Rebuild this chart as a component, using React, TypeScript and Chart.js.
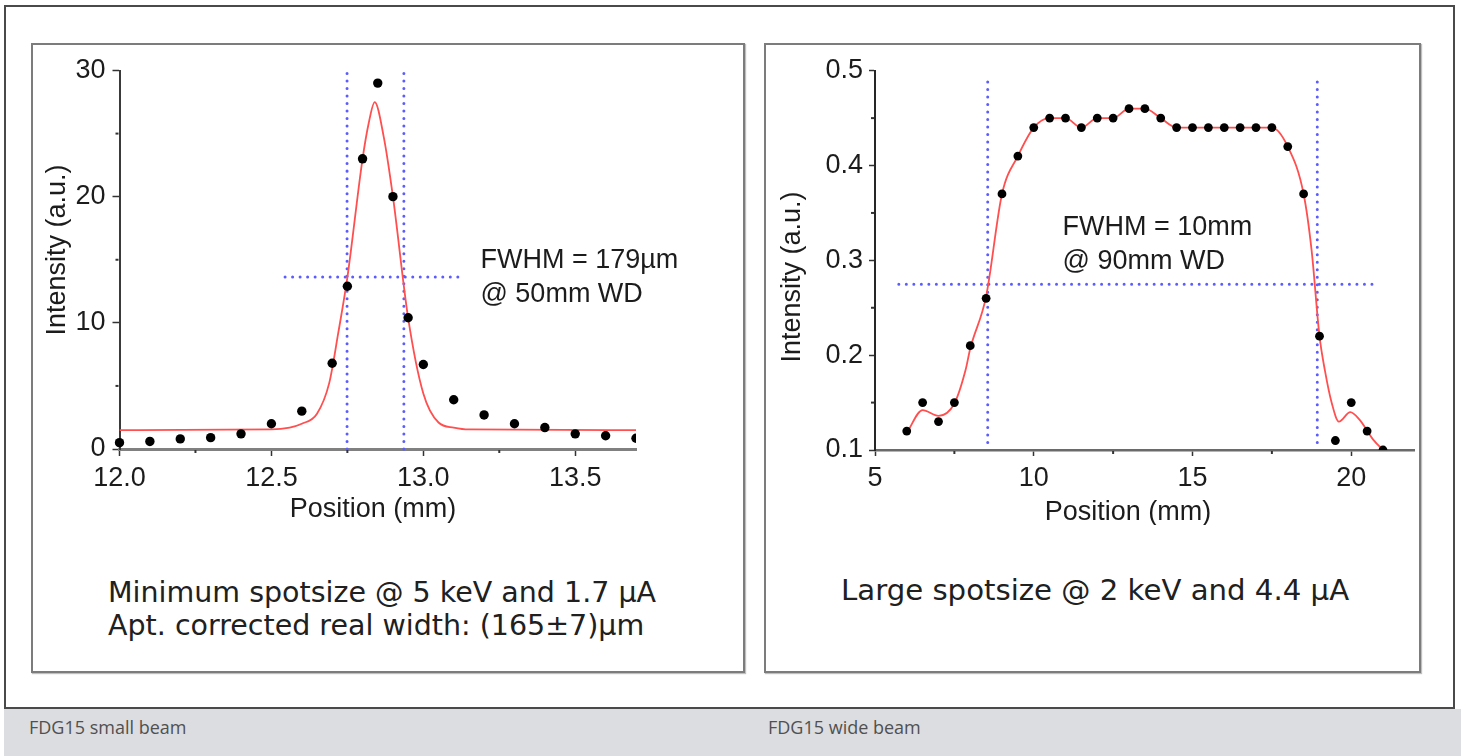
import React, { useEffect, useRef } from "react";
import { Chart, registerables } from "chart.js";

Chart.register(...registerables);

// ---------------- Left chart: FDG15 small beam ----------------
const smallPosition = [12.0, 12.1, 12.2, 12.3, 12.4, 12.5, 12.6, 12.7, 12.75, 12.8, 12.85, 12.9, 12.95, 13.0, 13.1, 13.2, 13.3, 13.4, 13.5, 13.6, 13.7];
const smallIntensity = [0.5, 0.6, 0.8, 0.9, 1.2, 2.0, 3.0, 6.8, 12.9, 23.0, 29.0, 20.0, 10.4, 6.7, 3.9, 2.7, 2.0, 1.7, 1.2, 1.05, 0.85];
const smallFitPosition = [12.0, 12.5, 12.56, 12.6, 12.65, 12.69, 12.72, 12.75, 12.8, 12.82, 12.84, 12.87, 12.9, 12.95, 13.0, 13.05, 13.1, 13.15, 13.7];
const smallFitIntensity = [1.5, 1.55, 1.7, 2.0, 2.8, 5.2, 9.2, 13.6, 23.0, 25.8, 27.5, 24.7, 20.0, 10.4, 4.4, 2.1, 1.7, 1.55, 1.5];
const smallEdges = [12.749, 12.936];
const smallEdgeSpan = [0, 30];
const smallHalfMaxSpan = [12.545, 13.128];
const smallHalfMax = 13.64;
const smallXTicks = [12.0, 12.5, 13.0, 13.5];
const smallXMinor = [12.25, 12.75, 13.25];
const smallYTicks = [0, 10, 20, 30];
const smallYMinor = [5, 15, 25];
const smallNote = ["FWHM = 179µm", "@ 50mm WD"];
const smallCaption = ["Minimum spotsize @ 5 keV and 1.7 µA", "Apt. corrected real width: (165±7)µm"];

// ---------------- Right chart: FDG15 wide beam ----------------
const widePosition = [6, 6.5, 7, 7.5, 8, 8.5, 9, 9.5, 10, 10.5, 11, 11.5, 12, 12.5, 13, 13.5, 14, 14.5, 15, 15.5, 16, 16.5, 17, 17.5, 18, 18.5, 19, 19.5, 20, 20.5, 21];
const wideIntensity = [0.12, 0.15, 0.13, 0.15, 0.21, 0.26, 0.37, 0.41, 0.44, 0.45, 0.45, 0.44, 0.45, 0.45, 0.46, 0.46, 0.45, 0.44, 0.44, 0.44, 0.44, 0.44, 0.44, 0.44, 0.42, 0.37, 0.22, 0.11, 0.15, 0.12, 0.10];
const wideFitPosition = [6.0, 6.5, 7.0, 7.5, 7.85, 8.0, 8.5, 9.0, 9.5, 10, 10.5, 11, 11.5, 12, 12.5, 13, 13.5, 14, 14.5, 15, 15.5, 16, 16.5, 17, 17.5, 18, 18.5, 18.75, 19.0, 19.17, 19.39, 19.61, 19.97, 20.26, 20.69, 21.06];
const wideFitIntensity = [0.118, 0.142, 0.136, 0.149, 0.184, 0.207, 0.262, 0.37, 0.41, 0.44, 0.45, 0.45, 0.44, 0.45, 0.45, 0.46, 0.46, 0.45, 0.44, 0.44, 0.44, 0.44, 0.44, 0.44, 0.44, 0.42, 0.37, 0.311, 0.22, 0.184, 0.149, 0.13, 0.14, 0.132, 0.111, 0.098];
const wideEdges = [8.55, 18.93];
const wideEdgeSpan = [0.108, 0.496];
const wideHalfMaxSpan = [5.75, 20.72];
const wideHalfMax = 0.2748;
const wideXTicks = [5, 10, 15, 20];
const wideXMinor = [7.5, 12.5, 17.5];
const wideYTicks = [0.1, 0.2, 0.3, 0.4, 0.5];
const wideYMinor = [0.15, 0.25, 0.35, 0.45];
const wideNote = ["FWHM = 10mm", "@ 90mm WD"];
const wideCaption = ["Large spotsize @ 2 keV and 4.4 µA"];

const figureLabels = ["FDG15 small beam", "FDG15 wide beam"];

// ---------------- styling ----------------
const AXIS_FONT = '"Liberation Sans", Arial, Helvetica, sans-serif';
const CAPTION_FONT = '"DejaVu Sans", Verdana, sans-serif';
const TEXT_COLOR = "#1c1c1c";
const FIT_COLOR = "#ff4f4f";
const GUIDE_COLOR = "#5c5cff";

const zip = (xs: number[], ys: number[]) => xs.map((x, i) => ({ x, y: ys[i] }));

type TextItem = {
  text: string;
  x: number;
  y: number;
  data?: boolean;
  rotate?: number;
  align?: CanvasTextAlign;
};

function makeTextPlugin(items: TextItem[]) {
  return {
    id: "panelText",
    afterDraw(chart: any) {
      const { ctx, scales } = chart;
      items.forEach((it) => {
        let x = it.x;
        let y = it.y;
        if (it.data) {
          x = scales.x.getPixelForValue(it.x);
          y = scales.y.getPixelForValue(it.y);
        }
        ctx.save();
        ctx.translate(x, y);
        if (it.rotate) ctx.rotate(it.rotate);
        ctx.font = `27px ${AXIS_FONT}`;
        ctx.fillStyle = TEXT_COLOR;
        ctx.textAlign = it.align || "left";
        ctx.textBaseline = "alphabetic";
        ctx.fillText(it.text, 0, 0);
        ctx.restore();
      });
    },
  };
}

function makeMinorPlugin(xMinor: number[], yMinor: number[]) {
  return {
    id: "minorTicks",
    afterDraw(chart: any) {
      const { ctx, scales } = chart;
      const xs = scales.x;
      const ys = scales.y;
      ctx.save();
      ctx.strokeStyle = "#333";
      ctx.lineWidth = 2;
      xMinor.forEach((v) => {
        const px = xs.getPixelForValue(v);
        ctx.beginPath();
        ctx.moveTo(px, ys.bottom + 1);
        ctx.lineTo(px, ys.bottom + 4);
        ctx.stroke();
      });
      yMinor.forEach((v) => {
        const py = ys.getPixelForValue(v);
        ctx.beginPath();
        ctx.moveTo(xs.left - 1, py);
        ctx.lineTo(xs.left - 4, py);
        ctx.stroke();
      });
      ctx.restore();
    },
  };
}

function guide(points: { x: number; y: number }[]) {
  return {
    data: points,
    borderColor: GUIDE_COLOR,
    borderWidth: 3,
    borderDash: [0.01, 7.5],
    borderCapStyle: "round",
    pointRadius: 0,
    tension: 0,
    clip: false,
    fill: false,
  };
}

function scale(opts: {
  min: number;
  max: number;
  ticks: number[];
  fmt: (v: number) => string;
  size: number;
  horizontal: boolean;
  borderColor: string;
  borderWidth: number;
  tickLength: number;
  padding: number;
}) {
  return {
    type: "linear",
    min: opts.min,
    max: opts.max,
    afterBuildTicks: (s: any) => {
      s.ticks = opts.ticks.map((v) => ({ value: v }));
    },
    afterFit: (s: any) => {
      if (opts.horizontal) s.height = opts.size;
      else s.width = opts.size;
    },
    grid: {
      display: true,
      drawOnChartArea: false,
      drawTicks: true,
      tickLength: opts.tickLength,
      tickWidth: 1.5,
      tickColor: "#333",
    },
    border: { display: true, color: opts.borderColor, width: opts.borderWidth },
    ticks: {
      autoSkip: false,
      maxRotation: 0,
      padding: opts.padding,
      color: TEXT_COLOR,
      font: { family: AXIS_FONT, size: 27 },
      callback: (v: any) => opts.fmt(Number(v)),
    },
    title: { display: false },
  };
}

function smallConfig(): any {
  return {
    type: "line",
    data: {
      datasets: [
        {
          label: "measured",
          data: zip(smallPosition, smallIntensity),
          showLine: false,
          pointRadius: 4.7,
          pointBackgroundColor: "#000",
          pointBorderWidth: 0,
          clip: { left: 10, top: 10, right: 0, bottom: 10 },
        },
        {
          label: "fit",
          data: zip(smallFitPosition, smallFitIntensity),
          borderColor: FIT_COLOR,
          borderWidth: 1.8,
          pointRadius: 0,
          cubicInterpolationMode: "monotone",
          fill: false,
        },
        guide(smallEdgeSpan.map((y) => ({ x: smallEdges[0], y }))),
        guide(smallEdgeSpan.map((y) => ({ x: smallEdges[1], y }))),
        guide(smallHalfMaxSpan.map((x) => ({ x, y: smallHalfMax }))),
      ],
    },
    options: {
      animation: false,
      responsive: false,
      events: [],
      layout: { padding: { left: 0, top: 25.5, right: 105, bottom: 0 } },
      plugins: { legend: { display: false }, tooltip: { enabled: false } },
      scales: {
        x: scale({
          min: 12.0, max: 13.7, ticks: smallXTicks, fmt: (v) => v.toFixed(1), size: 76,
          horizontal: true, borderColor: "#808080", borderWidth: 3, tickLength: 7, padding: 6,
        }),
        y: scale({
          min: 0, max: 30, ticks: smallYTicks, fmt: (v) => String(v), size: 86.5,
          horizontal: false, borderColor: "#3a3a3a", borderWidth: 2, tickLength: 7, padding: 7,
        }),
      },
    },
    plugins: [
      makeMinorPlugin(smallXMinor, smallYMinor),
      makeTextPlugin([
        { text: "Intensity (a.u.)", x: 32, y: 205, rotate: -Math.PI / 2, align: "center" },
        { text: "Position (mm)", x: 340, y: 472, align: "center" },
        { text: smallNote[0], x: 13.188, y: 14.38, data: true },
        { text: smallNote[1], x: 13.188, y: 11.65, data: true },
      ]),
    ],
  };
}

function wideConfig(): any {
  return {
    type: "line",
    data: {
      datasets: [
        {
          label: "measured",
          data: zip(widePosition, wideIntensity),
          showLine: false,
          pointRadius: 4.4,
          pointBackgroundColor: "#000",
          pointBorderWidth: 0,
          clip: { left: 10, top: 10, right: 10, bottom: 0 },
        },
        {
          label: "fit",
          data: zip(wideFitPosition, wideFitIntensity),
          borderColor: FIT_COLOR,
          borderWidth: 1.8,
          pointRadius: 0,
          cubicInterpolationMode: "monotone",
          fill: false,
        },
        guide(wideEdgeSpan.map((y) => ({ x: wideEdges[0], y }))),
        guide(wideEdgeSpan.map((y) => ({ x: wideEdges[1], y }))),
        guide(wideHalfMaxSpan.map((x) => ({ x, y: wideHalfMax }))),
      ],
    },
    options: {
      animation: false,
      responsive: false,
      events: [],
      layout: { padding: { left: 0, top: 25.7, right: 25.25, bottom: 0 } },
      plugins: { legend: { display: false }, tooltip: { enabled: false } },
      scales: {
        x: scale({
          min: 5, max: 22, ticks: wideXTicks, fmt: (v) => String(v), size: 75,
          horizontal: true, borderColor: "#6a6a6a", borderWidth: 2.5, tickLength: 6, padding: 6,
        }),
        y: scale({
          min: 0.1, max: 0.5, ticks: wideYTicks, fmt: (v) => v.toFixed(1), size: 109,
          horizontal: false, borderColor: "#262626", borderWidth: 2, tickLength: 6, padding: 6,
        }),
      },
    },
    plugins: [
      makeMinorPlugin(wideXMinor, wideYMinor),
      makeTextPlugin([
        { text: "Intensity (a.u.)", x: 34, y: 232, rotate: -Math.PI / 2, align: "center" },
        { text: "Position (mm)", x: 362, y: 475, align: "center" },
        { text: wideNote[0], x: 10.906, y: 0.3267, data: true },
        { text: wideNote[1], x: 10.906, y: 0.2914, data: true },
      ]),
    ],
  };
}

const abs = (l: number, t: number, w: number, h: number): React.CSSProperties => ({
  position: "absolute",
  left: l,
  top: t,
  width: w,
  height: h,
  boxSizing: "border-box",
});

export default function App() {
  const leftRef = useRef<HTMLCanvasElement>(null);
  const rightRef = useRef<HTMLCanvasElement>(null);

  useEffect(() => {
    const c1 = new Chart(leftRef.current as HTMLCanvasElement, smallConfig());
    const c2 = new Chart(rightRef.current as HTMLCanvasElement, wideConfig());
    return () => {
      c1.destroy();
      c2.destroy();
    };
  }, []);

  const panelStyle: React.CSSProperties = {
    border: "2px solid #7c7c7c",
    boxShadow: "1px 1px 1px rgba(0,0,0,0.25)",
    background: "#fff",
  };
  const captionStyle: React.CSSProperties = {
    fontFamily: CAPTION_FONT,
    lineHeight: "33px",
    color: "#202020",
    textAlign: "left",
    whiteSpace: "nowrap",
  };
  const footStyle: React.CSSProperties = {
    fontFamily: '"Open Sans", sans-serif',
    fontSize: 18,
    lineHeight: "24px",
    color: "#505050",
    whiteSpace: "nowrap",
  };

  return (
    <div style={{ ...abs(0, 0, 1461, 756), background: "#fff", overflow: "hidden" }}>
      <div style={{ ...abs(4, 5, 1451, 704), border: "2px solid #4a4a4a", background: "#fff" }} />
      <div style={{ ...abs(4, 709, 1457, 47), background: "#dcdde0" }} />
      <div style={{ ...abs(31, 43, 714, 630), ...panelStyle }} />
      <div style={{ ...abs(764, 43, 657, 630), ...panelStyle }} />

      <canvas ref={leftRef} width={708} height={480} style={{ position: "absolute", left: 33, top: 45, width: 708, height: 480 }} />
      <canvas ref={rightRef} width={674} height={480} style={{ position: "absolute", left: 766, top: 45, width: 674, height: 480 }} />

      <div style={{ ...abs(108, 576, 620, 70), ...captionStyle, fontSize: 28.5 }}>
        {smallCaption[0]}
        <br />
        {smallCaption[1]}
      </div>
      <div style={{ ...abs(841, 574, 560, 40), ...captionStyle, fontSize: 29.2 }}>{wideCaption[0]}</div>

      <div style={{ ...abs(29, 715, 300, 24), ...footStyle }}>{figureLabels[0]}</div>
      <div style={{ ...abs(768, 715, 300, 24), ...footStyle }}>{figureLabels[1]}</div>
    </div>
  );
}
